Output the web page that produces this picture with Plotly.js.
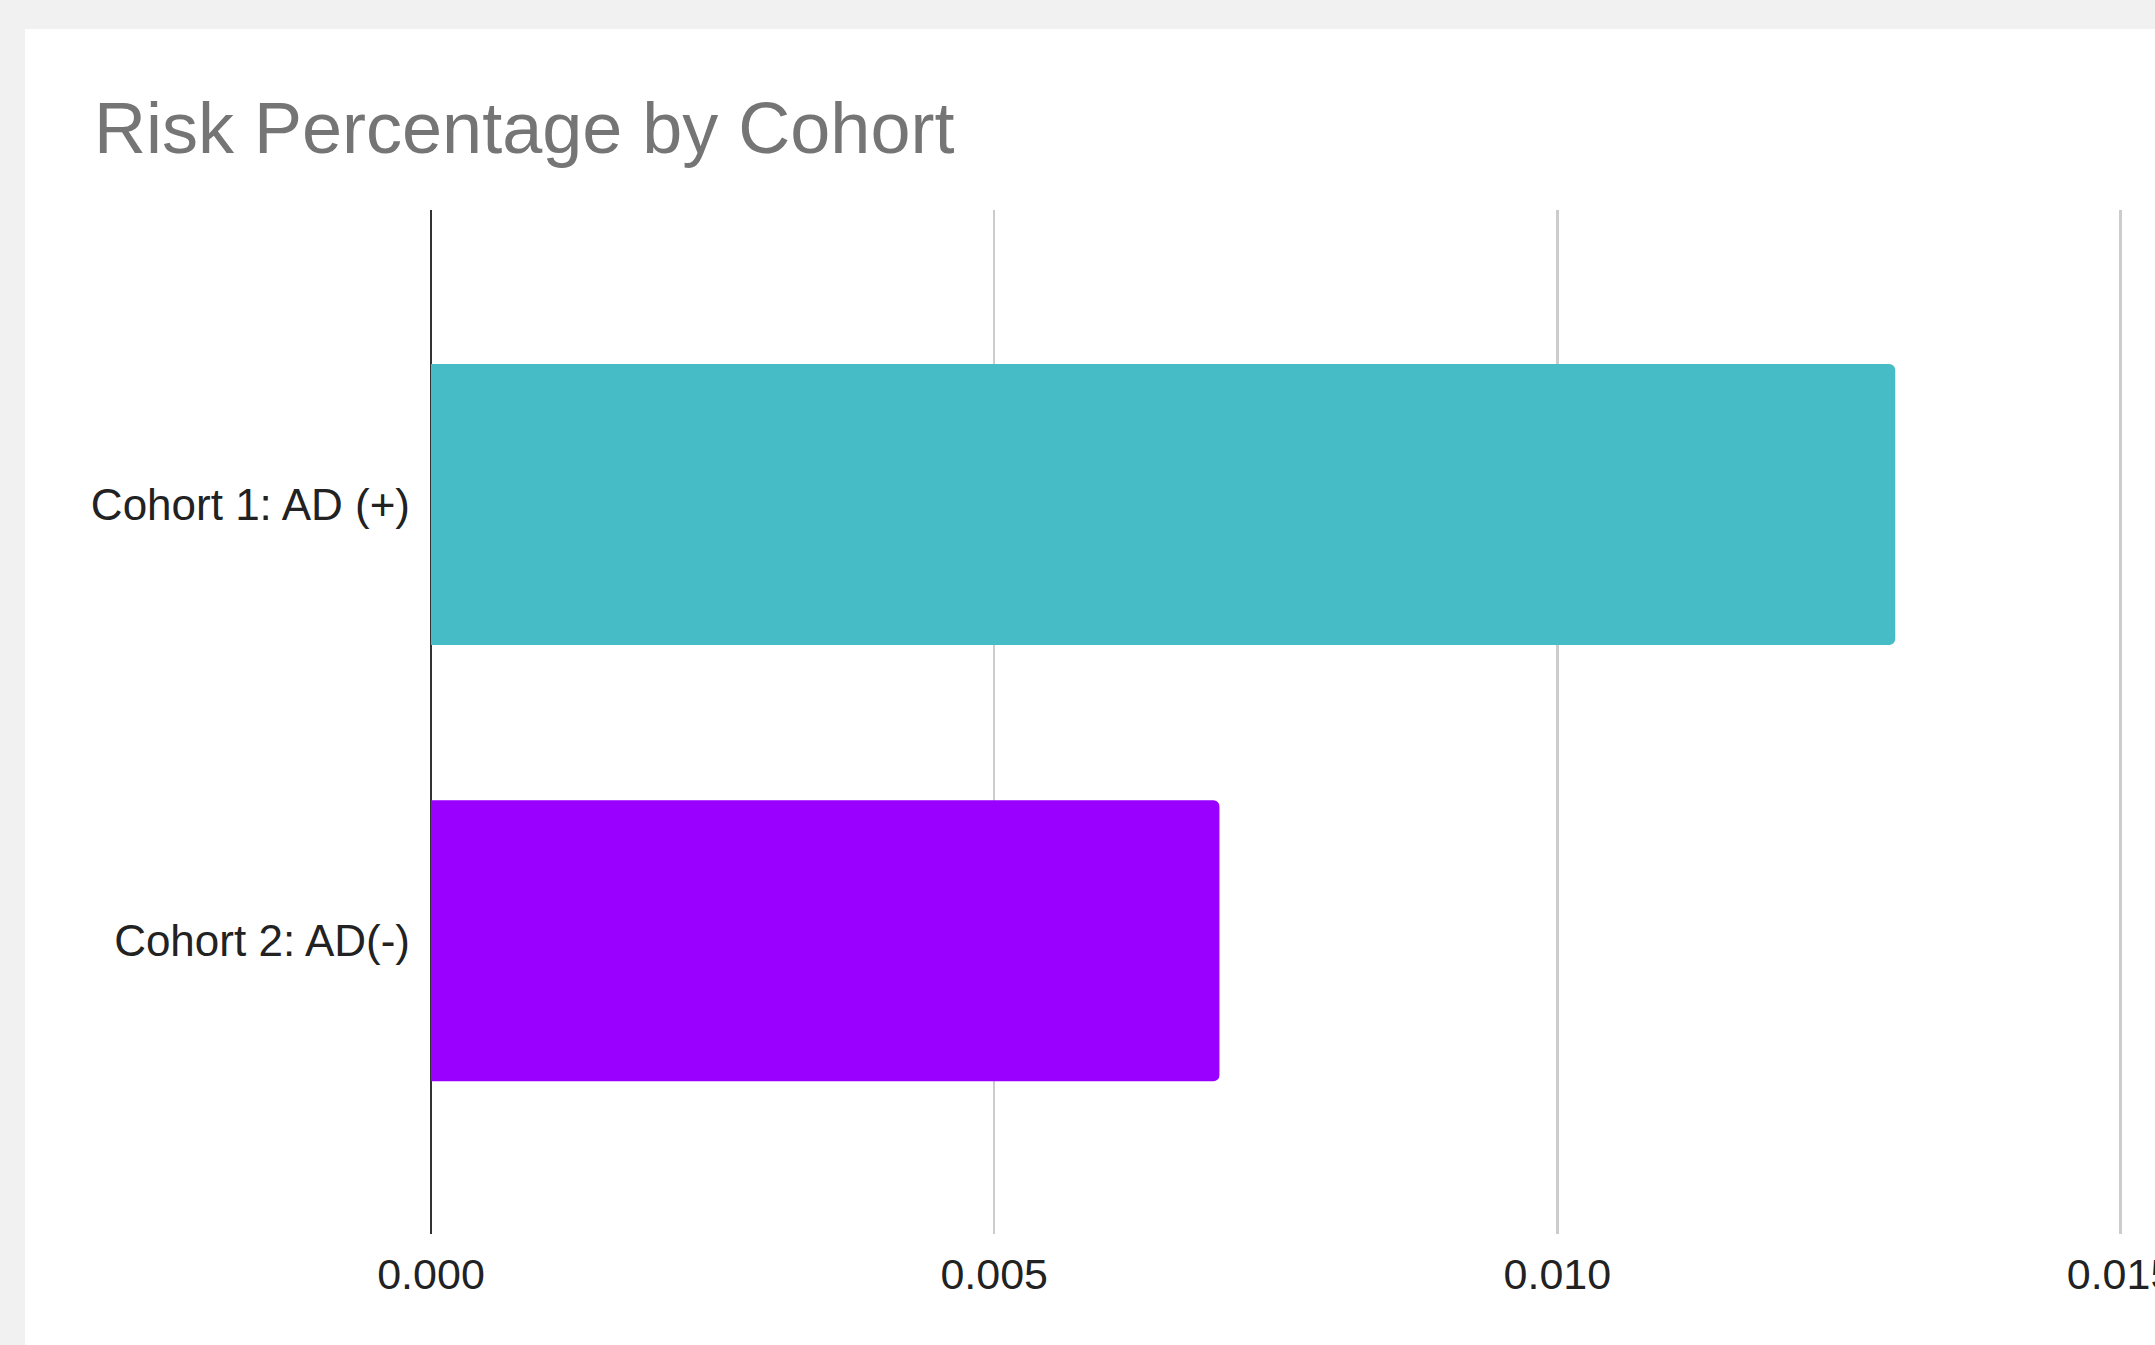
<!DOCTYPE html>
<html>
<head>
<meta charset="utf-8">
<script src="https://cdn.plot.ly/plotly-3.0.1.min.js"></script>
<style>
  html, body { margin: 0; padding: 0; background: #f1f1f1; width: 2155px; height: 1345px; overflow: hidden; }
  #chart { position: absolute; left: 25px; top: 29px; width: 2130px; height: 1316px; background: #ffffff; }
</style>
</head>
<body>
<div id="chart"></div>
<script>
const categories = ['Cohort 1: AD (+)', 'Cohort 2: AD(-)'];
const riskValues = [0.013, 0.007];
const barColors = ['#46bdc6', '#9900ff'];
const xTickValues = [0, 0.005, 0.010, 0.015];
const chartTitle = 'Risk Percentage by Cohort';

const W = 2130, H = 1316;
const trace = {
  type: 'bar',
  orientation: 'h',
  x: riskValues,
  y: categories,
  width: 0.644,
  marker: { color: barColors, cornerradius: 6, line: { width: 0 } },
  hoverinfo: 'none'
};

const layout = {
  width: W,
  height: H,
  paper_bgcolor: '#ffffff',
  plot_bgcolor: '#ffffff',
  showlegend: false,
  font: { family: 'Liberation Sans, Arial, sans-serif', size: 43, color: '#222222' },
  margin: { l: 406, r: 0, t: 181, b: 111, pad: 0 },
  title: {
    text: chartTitle,
    font: { family: 'Liberation Sans, Arial, sans-serif', size: 72, color: '#757575' },
    xref: 'container', yref: 'container',
    x: 69 / W, xanchor: 'left',
    y: 1 - 98.4 / H, yanchor: 'middle'
  },
  xaxis: {
    range: [0, 0.015306],
    tickvals: xTickValues,
    tickformat: '.3f',
    showgrid: true,
    gridcolor: '#cccccc',
    gridwidth: 2.5,
    zeroline: true,
    zerolinecolor: '#333333',
    zerolinewidth: 2.5,
    showline: false,
    ticks: '',
    ticklabelstandoff: 11,
    ticklabeloverflow: 'allow',
    tickfont: { size: 43, color: '#222222' },
    fixedrange: true
  },
  yaxis: {
    type: 'category',
    categoryarray: categories,
    range: [1.672, -0.675],
    showgrid: false,
    zeroline: false,
    showline: false,
    ticks: '',
    ticklabelstandoff: 20,
    tickfont: { size: 44, color: '#222222' },
    fixedrange: true
  },
  bargap: 0.3
};

Plotly.newPlot('chart', [trace], layout, { displayModeBar: false, staticPlot: true });
</script>
</body>
</html>
